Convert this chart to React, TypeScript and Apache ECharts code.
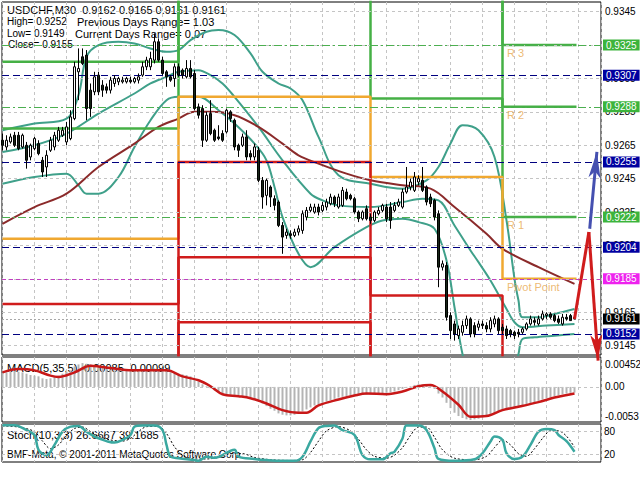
import { useEffect, useRef } from 'react';
import * as echarts from 'echarts';

const FONT = '"Liberation Sans", Arial, sans-serif';

const symbolName = 'USDCHF';
const timeframe = 'M30';
const dateLabels = ['14 Mar 2012', '14 Mar 10:00', '14 Mar 18:00', '15 Mar 02:00', '15 Mar 10:00', '15 Mar 18:00', '16 Mar 02:00', '16 Mar 10:00', '18 Mar 18:30'];
const barsPerLabel = 16;
const barsPerGridLine = 8;

const open = [
  0.9268, 0.9264, 0.9267, 0.9271, 0.9271, 0.9264, 0.9265, 0.9258, 0.9263, 0.9266,
  0.9256, 0.9252, 0.9262, 0.9264, 0.9268, 0.9271, 0.9267, 0.9269, 0.9281, 0.9309,
  0.9318, 0.9319, 0.9298, 0.9297, 0.9307, 0.9301, 0.9300, 0.9298, 0.9302, 0.9303,
  0.9303, 0.9303, 0.9304, 0.9303, 0.9304, 0.9307, 0.9312, 0.9312, 0.9316, 0.9327,
  0.9316, 0.9309, 0.9306, 0.9305, 0.9312, 0.9310, 0.9306, 0.9311, 0.9308, 0.9288,
  0.9287, 0.9268, 0.9284, 0.9274, 0.9270, 0.9272, 0.9273, 0.9285, 0.9280, 0.9265,
  0.9265, 0.9270, 0.9260, 0.9258, 0.9262, 0.9244, 0.9235, 0.9240, 0.9233, 0.9231,
  0.9217, 0.9211, 0.9212, 0.9211, 0.9213, 0.9214, 0.9222, 0.9226, 0.9225, 0.9228,
  0.9226, 0.9228, 0.9230, 0.9234, 0.9228, 0.9229, 0.9237, 0.9235, 0.9233, 0.9225,
  0.9221, 0.9227, 0.9222, 0.9220, 0.9224, 0.9226, 0.9228, 0.9228, 0.9226, 0.9229,
  0.9228, 0.9237, 0.9240, 0.9238, 0.9243, 0.9244, 0.9240, 0.9234, 0.9232, 0.9224,
  0.9192, 0.9193, 0.9163, 0.9158, 0.9151, 0.9153, 0.9157, 0.9161, 0.9157, 0.9156,
  0.9158, 0.9157, 0.9155, 0.9158, 0.9161, 0.9156, 0.9155, 0.9154, 0.9153, 0.9153,
  0.9153, 0.9155, 0.9158, 0.9160, 0.9158, 0.9161, 0.9163, 0.9164, 0.9163, 0.9161,
  0.9158, 0.9162, 0.9163, 0.9162,
];
const close = [
  0.9265, 0.9268, 0.9270, 0.9265, 0.9263, 0.9271, 0.9256, 0.9265, 0.9269, 0.9260,
  0.9249, 0.9259, 0.9268, 0.9271, 0.9274, 0.9274, 0.9276, 0.9282, 0.9312, 0.9311,
  0.9314, 0.9287, 0.9287, 0.9306, 0.9297, 0.9298, 0.9298, 0.9304, 0.9305, 0.9305,
  0.9304, 0.9305, 0.9303, 0.9305, 0.9306, 0.9312, 0.9316, 0.9317, 0.9327, 0.9316,
  0.9308, 0.9306, 0.9304, 0.9312, 0.9307, 0.9307, 0.9311, 0.9306, 0.9287, 0.9283,
  0.9268, 0.9283, 0.9272, 0.9268, 0.9269, 0.9268, 0.9286, 0.9281, 0.9264, 0.9262,
  0.9270, 0.9258, 0.9258, 0.9264, 0.9244, 0.9234, 0.9244, 0.9234, 0.9229, 0.9217,
  0.9210, 0.9213, 0.9211, 0.9213, 0.9215, 0.9224, 0.9226, 0.9228, 0.9228, 0.9225,
  0.9229, 0.9231, 0.9234, 0.9230, 0.9234, 0.9238, 0.9233, 0.9233, 0.9225, 0.9221,
  0.9225, 0.9221, 0.9220, 0.9225, 0.9226, 0.9229, 0.9221, 0.9220, 0.9229, 0.9231,
  0.9237, 0.9240, 0.9243, 0.9246, 0.9245, 0.9238, 0.9231, 0.9230, 0.9222, 0.9192,
  0.9194, 0.9162, 0.9154, 0.9152, 0.9155, 0.9157, 0.9161, 0.9152, 0.9152, 0.9158,
  0.9157, 0.9155, 0.9160, 0.9161, 0.9154, 0.9154, 0.9151, 0.9152, 0.9151, 0.9152,
  0.9155, 0.9158, 0.9161, 0.9159, 0.9161, 0.9164, 0.9164, 0.9162, 0.9160, 0.9159,
  0.9162, 0.9161, 0.9160, 0.9161,
];
const low = [
  0.9262, 0.9262, 0.9266, 0.9264, 0.9262, 0.9263, 0.9251, 0.9256, 0.9262, 0.9259,
  0.9246, 0.9246, 0.9261, 0.9262, 0.9267, 0.9270, 0.9265, 0.9268, 0.9280, 0.9292,
  0.9313, 0.9280, 0.9282, 0.9295, 0.9295, 0.9294, 0.9296, 0.9296, 0.9300, 0.9301,
  0.9302, 0.9302, 0.9302, 0.9302, 0.9302, 0.9306, 0.9310, 0.9310, 0.9314, 0.9315,
  0.9307, 0.9300, 0.9303, 0.9300, 0.9306, 0.9305, 0.9305, 0.9305, 0.9286, 0.9281,
  0.9264, 0.9267, 0.9271, 0.9267, 0.9268, 0.9267, 0.9272, 0.9279, 0.9262, 0.9258,
  0.9264, 0.9256, 0.9256, 0.9256, 0.9243, 0.9227, 0.9229, 0.9228, 0.9226, 0.9216,
  0.9200, 0.9209, 0.9209, 0.9210, 0.9211, 0.9212, 0.9220, 0.9225, 0.9224, 0.9223,
  0.9225, 0.9226, 0.9229, 0.9228, 0.9227, 0.9228, 0.9232, 0.9232, 0.9224, 0.9219,
  0.9220, 0.9220, 0.9218, 0.9219, 0.9223, 0.9225, 0.9219, 0.9215, 0.9225, 0.9228,
  0.9227, 0.9236, 0.9238, 0.9237, 0.9241, 0.9237, 0.9229, 0.9228, 0.9220, 0.9180,
  0.9190, 0.9160, 0.9149, 0.9148, 0.9149, 0.9151, 0.9155, 0.9150, 0.9150, 0.9154,
  0.9155, 0.9153, 0.9153, 0.9156, 0.9152, 0.9152, 0.9149, 0.9150, 0.9149, 0.9150,
  0.9152, 0.9154, 0.9157, 0.9157, 0.9157, 0.9160, 0.9161, 0.9161, 0.9159, 0.9158,
  0.9157, 0.9160, 0.9160, 0.9161,
];
const high = [
  0.9272, 0.9271, 0.9272, 0.9273, 0.9273, 0.9272, 0.9267, 0.9266, 0.9270, 0.9268,
  0.9258, 0.9262, 0.9270, 0.9273, 0.9276, 0.9276, 0.9279, 0.9286, 0.9315, 0.9323,
  0.9323, 0.9322, 0.9302, 0.9309, 0.9309, 0.9304, 0.9302, 0.9306, 0.9307, 0.9306,
  0.9306, 0.9306, 0.9306, 0.9306, 0.9308, 0.9315, 0.9318, 0.9321, 0.9332, 0.9329,
  0.9318, 0.9310, 0.9307, 0.9314, 0.9314, 0.9311, 0.9316, 0.9316, 0.9310, 0.9290,
  0.9289, 0.9285, 0.9292, 0.9275, 0.9277, 0.9274, 0.9287, 0.9286, 0.9281, 0.9266,
  0.9272, 0.9274, 0.9262, 0.9266, 0.9264, 0.9246, 0.9245, 0.9241, 0.9235, 0.9232,
  0.9219, 0.9215, 0.9214, 0.9215, 0.9217, 0.9226, 0.9228, 0.9230, 0.9230, 0.9230,
  0.9231, 0.9233, 0.9236, 0.9235, 0.9236, 0.9240, 0.9239, 0.9236, 0.9234, 0.9226,
  0.9226, 0.9229, 0.9224, 0.9226, 0.9228, 0.9230, 0.9230, 0.9231, 0.9231, 0.9233,
  0.9239, 0.9252, 0.9245, 0.9249, 0.9247, 0.9252, 0.9241, 0.9236, 0.9233, 0.9226,
  0.9196, 0.9195, 0.9165, 0.9160, 0.9157, 0.9160, 0.9163, 0.9162, 0.9159, 0.9160,
  0.9160, 0.9159, 0.9162, 0.9163, 0.9162, 0.9158, 0.9157, 0.9155, 0.9154, 0.9155,
  0.9156, 0.9159, 0.9163, 0.9162, 0.9163, 0.9166, 0.9165, 0.9165, 0.9164, 0.9163,
  0.9164, 0.9164, 0.9164, 0.9165,
];

// Bollinger bands and slow moving average (bar index, price)
const bbUpper = [
  [0, 0.9274], [8, 0.9278], [16, 0.9281], [19, 0.9295], [21, 0.9318], [24, 0.9325], [29, 0.9327], [33, 0.9326],
  [37, 0.9323], [41, 0.9321], [44, 0.9322], [47, 0.9328], [51, 0.9333], [54, 0.9334], [58, 0.9331], [62, 0.9320],
  [65, 0.9309], [69, 0.9302], [72, 0.9299], [75, 0.9292], [79, 0.9270], [84, 0.9247], [92, 0.9242], [100, 0.9239],
  [106, 0.9244], [109, 0.9252], [112, 0.9266], [115, 0.9277], [119, 0.9274], [123, 0.9258], [126, 0.9220],
  [128, 0.9185], [129, 0.9172], [130, 0.9162], [134, 0.9162], [138, 0.9164], [143, 0.9167],
];
const bbMiddle = [
  [0, 0.9261], [8, 0.9265], [16, 0.9272], [24, 0.9284], [33, 0.9296], [37, 0.9302], [41, 0.9306], [44, 0.9309],
  [49, 0.9310], [52, 0.9307], [55, 0.9302], [58, 0.9294], [64, 0.9276], [70, 0.9256], [77, 0.9236], [80, 0.9232],
  [84, 0.9229], [92, 0.9228], [100, 0.9231], [105, 0.9233], [109, 0.9232], [113, 0.9217], [117, 0.9202],
  [119, 0.9195], [122, 0.9184], [126, 0.9167], [128, 0.9159], [130, 0.9156], [136, 0.9157], [143, 0.9158],
];
const bbLower = [
  [0, 0.9242], [8, 0.9246], [16, 0.9248], [19, 0.9241], [21, 0.9236], [24, 0.9236], [29, 0.9246], [33, 0.9264],
  [37, 0.9280], [41, 0.9292], [44, 0.9294], [49, 0.9294], [54, 0.9286], [58, 0.9278], [63, 0.9266], [66, 0.9256],
  [68, 0.9240], [70, 0.9222], [74, 0.9200], [77, 0.9192], [83, 0.9204], [91, 0.9216], [95, 0.9220], [100, 0.9221],
  [104, 0.9219], [108, 0.9215], [111, 0.9196], [113, 0.9168], [115, 0.9140], [117, 0.9125], [120, 0.9118],
  [124, 0.9112], [127, 0.9122], [129, 0.9140], [130, 0.9149], [133, 0.9150], [138, 0.9151], [143, 0.9152],
];
const maSlow = [
  [0, 0.9218], [8, 0.9228], [16, 0.9236], [24, 0.9252], [33, 0.9266], [39, 0.9276], [44, 0.9281], [48, 0.9285],
  [52, 0.9285], [58, 0.9283], [64, 0.9276], [70, 0.9266], [74, 0.9259], [79, 0.9254], [86, 0.9248], [92, 0.9244],
  [100, 0.9241], [107, 0.9239], [113, 0.9228], [121, 0.9212], [125, 0.9203], [134, 0.9192], [143, 0.9182],
];

// daily pivot levels (four sessions)
const dayStarts = [0, 44, 92, 125];
const pivotR3 = [0.9360, 0.9470, 0.9420, 0.9325];
const pivotR2 = [0.9315, 0.9420, 0.9370, 0.9288];
const pivotR1 = [0.9275, 0.9370, 0.9293, 0.9222];
const pivotPP = [0.9209, 0.9294, 0.9246, 0.9185];
const pivotS1 = [0.9170, 0.9255, 0.9175, 0.9120];
const pivotS2 = [0.9120, 0.9198, 0.9120, 0.9080];
const pivotS3 = [0.9080, 0.9159, 0.9080, 0.9040];
const pivotNames = ['R 3', 'R 2', 'R 1', 'Pivot Point'];

// horizontal levels with price tags on the right scale
const priceTicks = [0.9145, 0.9165, 0.9185, 0.9205, 0.9225, 0.9245, 0.9265, 0.9285, 0.9305, 0.9325, 0.9345];
const resistanceTags = [0.9325, 0.9288, 0.9222];
const rangeTags = [0.9307, 0.9255, 0.9204, 0.9152];
const pivotTags = [0.9185];
const bidPrice = 0.9161;
const priceMin = 0.91394;
const priceMax = 0.93508;

// projection arrows (bar index, price)
const forecastUp = [[146.8, 0.9215], [148.6, 0.9261]];
const forecastDown = [[143, 0.9161], [146.6, 0.9213], [148.9, 0.9136]];

// info block
const dayHigh = '0.9252';
const dayLow = '0.9149';
const dayClose = '0.9155';
const prevDaysRange = '1.03';
const currDaysRange = '0.07';

// MACD(5,35,5)
const macdMin = -0.0053;
const macdMax = 0.00452;
const macdHist = [
  0.0021, 0.0022, 0.0023, 0.0024, 0.0023, 0.0022, 0.0020, 0.0018, 0.0017, 0.0016,
  0.0013, 0.0012, 0.0013, 0.0015, 0.0017, 0.0020, 0.0023, 0.0025, 0.0031, 0.0034,
  0.0036, 0.0035, 0.0034, 0.0032, 0.0030, 0.0029, 0.0027, 0.0026, 0.0025, 0.0025,
  0.0024, 0.0024, 0.0024, 0.0024, 0.0024, 0.0025, 0.0026, 0.0027, 0.0028, 0.0027,
  0.0025, 0.0024, 0.0022, 0.0021, 0.0020, 0.0019, 0.0018, 0.0016, 0.0012, 0.0008,
  0.0004, 0.0001, -0.0002, -0.0005, -0.0008, -0.0010, -0.0011, -0.0012, -0.0012, -0.0013,
  -0.0014, -0.0015, -0.0016, -0.0018, -0.0021, -0.0025, -0.0029, -0.0033, -0.0036, -0.0040,
  -0.0042, -0.0043, -0.0043, -0.0042, -0.0040, -0.0037, -0.0034, -0.0031, -0.0028, -0.0026,
  -0.0024, -0.0022, -0.0020, -0.0018, -0.0016, -0.0015, -0.0014, -0.0013, -0.0013, -0.0012,
  -0.0012, -0.0012, -0.0011, -0.0011, -0.0010, -0.0010, -0.0009, -0.0008, -0.0007, -0.0005,
  -0.0003, -0.0001, 0.0001, 0.0003, 0.0004, 0.0004, 0.0003, 0.0001, -0.0003, -0.0010,
  -0.0016, -0.0024, -0.0032, -0.0039, -0.0044, -0.0047, -0.0049, -0.0050, -0.0049, -0.0048,
  -0.0046, -0.0044, -0.0042, -0.0040, -0.0038, -0.0036, -0.0034, -0.0033, -0.0032, -0.0030,
  -0.0029, -0.0027, -0.0025, -0.0023, -0.0021, -0.0019, -0.0017, -0.0016, -0.0014, -0.0013,
  -0.0011, -0.0010, -0.0009, -0.00085,
];
const macdSignal = [
  [0, 0.0022], [4, 0.0027], [8, 0.0025], [12, 0.0017], [14, 0.0015], [18, 0.0022], [22, 0.0032], [24, 0.0031],
  [29, 0.0027], [33, 0.0025], [41, 0.0025], [45, 0.0016], [49, 0.0010], [52, 0.0001], [55, -0.0011], [59, -0.0014],
  [62, -0.0017], [66, -0.0025], [70, -0.0035], [74, -0.0039], [76, -0.0039], [79, -0.0028], [84, -0.0019],
  [88, -0.0013], [91, -0.0010], [96, -0.0011], [100, -0.0007], [104, 0.0001], [107, 0.0003], [110, -0.0007],
  [114, -0.0027], [117, -0.0045], [121, -0.0044], [125, -0.0035], [129, -0.0030], [134, -0.0023], [138, -0.0016],
  [143, -0.00099],
];
const macdZeroLabel = '0.00';

// Stochastic(10,3,3)
const stochLevels = [80, 20];
const stochBounds = [100, 0];
const stochMain = [
  [0, 97], [3, 97], [6, 84], [8, 71], [9, 32], [11, 18], [13, 45], [15, 80], [17, 93], [19, 95], [21, 80], [23, 67],
  [24, 62], [26, 55], [28, 51], [30, 58], [32, 71], [33, 93], [35, 96], [38, 96], [40, 84], [41, 45], [42, 14],
  [44, 10], [48, 5], [49, 3], [51, 14], [53, 11], [58, 32], [59, 14], [63, 8], [66, 5], [70, 3], [73, 3], [75, 14],
  [77, 54], [79, 89], [81, 95], [83, 96], [85, 84], [88, 71], [90, 18], [92, 7], [95, 7], [97, 23], [98, 27],
  [100, 62], [101, 96], [104, 96], [106, 84], [108, 36], [109, 8], [113, 3], [118, 7], [120, 23], [122, 54],
  [123, 67], [125, 58], [126, 23], [128, 8], [130, 14], [132, 45], [134, 80], [136, 87], [138, 84], [139, 71],
  [141, 55], [143, 27],
];
const stochSignal = [
  [0, 95], [4, 92], [8, 80], [10, 55], [12, 35], [14, 45], [16, 70], [18, 88], [20, 92], [22, 80], [24, 68],
  [27, 58], [30, 55], [32, 62], [34, 80], [36, 93], [39, 94], [41, 75], [43, 40], [45, 18], [48, 8], [51, 8],
  [54, 12], [57, 22], [60, 22], [63, 12], [67, 6], [72, 4], [75, 6], [77, 25], [79, 55], [81, 82], [84, 93],
  [87, 82], [89, 60], [91, 32], [93, 15], [96, 10], [98, 18], [100, 38], [102, 70], [104, 92], [106, 92],
  [108, 65], [110, 32], [113, 10], [118, 6], [121, 15], [123, 38], [125, 58], [127, 45], [129, 22], [131, 15],
  [133, 35], [135, 62], [137, 82], [139, 82], [141, 68], [143, 39],
];

const GREEN = '#45b045';
const ORANGE = '#f0a830';
const RED = '#d01c1c';
const NAVY = '#0000a0';
const BB = '#3fa08a';
const GRID = '#c4c4c4';

function buildOption() {
  const lastBar = close.length - 1;
  const f4 = (v: number) => v.toFixed(4);
  const xAxisBase = (gridIndex: number, showLabels: boolean) => ({
    type: 'value',
    gridIndex,
    min: -0.125,
    max: 149.625,
    interval: barsPerGridLine,
    axisLine: { show: false },
    axisTick: { show: false },
    splitLine: { show: true, lineStyle: { color: GRID, type: [3, 3], width: 1 } },
    axisLabel: {
      show: showLabels,
      align: 'left',
      margin: 4,
      color: '#000',
      fontSize: 10,
      fontFamily: FONT,
      formatter: (v: number) => {
        const i = Math.round(v);
        if (Math.abs(v - i) > 0.01 || i % barsPerLabel !== 0) return '';
        return dateLabels[i / barsPerLabel] ?? '';
      },
    },
  });
  const stepData = (lv: number[]) => [
    ...dayStarts.map((d, k) => [d, lv[k]]),
    [lastBar + 0.5, lv[lv.length - 1]],
  ];
  const stepSeries = (lv: number[], color: string) => ({
    type: 'line',
    xAxisIndex: 0,
    yAxisIndex: 0,
    step: 'end',
    symbol: 'none',
    data: stepData(lv),
    lineStyle: { color, width: 2.5 },
    z: 4,
  });
  const smoothLine = (data: number[][], color: string, width: number, xi: number, z = 3) => ({
    type: 'line',
    xAxisIndex: xi,
    yAxisIndex: xi,
    smooth: 0.35,
    symbol: 'none',
    data,
    lineStyle: { color, width },
    z,
  });
  const tag = (v: number, bg: string, lineColor: string, type: any) => ({
    yAxis: v,
    lineStyle: { color: lineColor, type, width: 1 },
    label: {
      show: true,
      position: 'end',
      distance: 2,
      formatter: f4(v),
      color: '#fff',
      backgroundColor: bg,
      padding: [1, 3, 0, 3],
      fontSize: 10,
      fontFamily: FONT,
    },
  });
  const lastDay = dayStarts.length - 1;
  const pivotLabelValues = [pivotR3[lastDay], pivotR2[lastDay], pivotR1[lastDay], pivotPP[lastDay]];
  const plainLabel = (text: string, distance = 4) => ({
    show: true, position: 'end', distance, formatter: text, color: '#000', fontSize: 10, fontFamily: FONT,
  });
  const gridBox = { show: true, borderColor: '#000', borderWidth: 1, backgroundColor: '#fff', containLabel: false, outerBoundsMode: 'none' };
  const txt = (x: number, y: number, text: string, size = 10) => ({
    type: 'text', x, y, style: { text, fill: '#000', font: `${size}px ${FONT}` },
  });

  return {
    animation: false,
    backgroundColor: '#fff',
    textStyle: { fontFamily: FONT },
    grid: [
      { left: 2, top: 2, width: 599, height: 353, ...gridBox },
      { left: 2, top: 357, width: 599, height: 65, ...gridBox },
      { left: 2, top: 424, width: 599, height: 38, ...gridBox },
    ],
    xAxis: [xAxisBase(0, false), xAxisBase(1, false), xAxisBase(2, true)],
    yAxis: [
      {
        type: 'value', gridIndex: 0, position: 'right', min: priceMin, max: priceMax,
        axisLine: { show: false }, axisTick: { show: false }, splitLine: { show: false }, axisLabel: { show: false },
      },
      {
        type: 'value', gridIndex: 1, position: 'right', min: macdMin, max: macdMax,
        axisLine: { show: false }, axisTick: { show: false }, splitLine: { show: false },
        axisLabel: {
          show: true, margin: 4, color: '#000', fontSize: 10, fontFamily: FONT, align: 'left',
          showMinLabel: true, showMaxLabel: true,
          formatter: (v: number) => {
            if (Math.abs(v - macdMax) < 1e-9) return '{top|' + String(macdMax) + '}';
            if (Math.abs(v - macdMin) < 1e-9) return '{bot|' + String(macdMin) + '}';
            return '';
          },
          rich: {
            top: { padding: [15, 0, 0, 0], fontSize: 10, fontFamily: FONT, color: '#000' },
            bot: { padding: [0, 0, 11, 0], fontSize: 10, fontFamily: FONT, color: '#000' },
          },
        },
      },
      {
        type: 'value', gridIndex: 2, position: 'right', min: 0, max: 100,
        axisLine: { show: false }, axisTick: { show: false }, splitLine: { show: false }, axisLabel: { show: false },
      },
    ],
    series: [
      // price grid + scale labels
      {
        type: 'line', xAxisIndex: 0, yAxisIndex: 0, data: [], z: 1,
        markLine: {
          silent: true, symbol: ['none', 'none'], animation: false, precision: 6,
          data: priceTicks.map((v) => ({
            yAxis: v,
            lineStyle: { color: GRID, type: [3, 3], width: 1 },
            label: plainLabel(f4(v)),
          })),
        },
      },
      smoothLine(bbUpper, BB, 2, 0),
      smoothLine(bbMiddle, BB, 2, 0),
      smoothLine(bbLower, BB, 2, 0),
      smoothLine(maSlow, '#8b2a2a', 2, 0),
      stepSeries(pivotR3, GREEN),
      stepSeries(pivotR2, GREEN),
      stepSeries(pivotR1, GREEN),
      stepSeries(pivotPP, ORANGE),
      stepSeries(pivotS1, RED),
      stepSeries(pivotS2, RED),
      stepSeries(pivotS3, RED),
      // tagged horizontal levels
      {
        type: 'line', xAxisIndex: 0, yAxisIndex: 0, data: [], z: 5,
        markLine: {
          silent: true, symbol: ['none', 'none'], animation: false, precision: 6,
          data: [
            ...resistanceTags.map((v) => tag(v, '#3cb43c', '#4caf50', [8, 3, 2, 3])),
            ...rangeTags.map((v) => tag(v, NAVY, '#000080', [7, 4])),
            ...pivotTags.map((v) => tag(v, '#ee22ee', '#c040c0', [4, 3])),
            tag(bidPrice, '#000', '#a8a8a8', [2, 2]),
          ],
        },
      },
      {
        type: 'candlestick',
        xAxisIndex: 0,
        yAxisIndex: 0,
        barWidth: 3,
        encode: { x: 0, y: [1, 2, 3, 4] },
        data: open.map((o, i) => [i, o, close[i], low[i], high[i]]),
        itemStyle: { color: '#ffffff', color0: '#172617', borderColor: '#000', borderColor0: '#000', borderWidth: 1 },
        z: 6,
      },
      {
        type: 'scatter',
        xAxisIndex: 0,
        yAxisIndex: 0,
        symbolSize: 1,
        itemStyle: { color: 'rgba(0,0,0,0)' },
        data: pivotLabelValues.map((v, k) => ({ value: [dayStarts[lastDay], v], name: pivotNames[k] })),
        label: {
          show: true, position: 'right', distance: 4, offset: [0, 8],
          formatter: (p: any) => p.name, color: '#e8a850', fontSize: 11, fontFamily: FONT,
        },
        z: 7,
      },
      {
        type: 'lines', coordinateSystem: 'cartesian2d', xAxisIndex: 0, yAxisIndex: 0, clip: false,
        symbol: ['none', 'none'], z: 8,
        data: [{ coords: forecastDown.slice(0, 2), lineStyle: { color: RED, width: 3, opacity: 1 } }],
      },
      {
        type: 'lines', coordinateSystem: 'cartesian2d', xAxisIndex: 0, yAxisIndex: 0, clip: false,
        symbol: ['none', 'arrow'], symbolSize: [0, [9, 26]], z: 8,
        data: [
          { coords: forecastDown.slice(1, 3), lineStyle: { color: RED, width: 3, opacity: 1 } },
          { coords: forecastUp, lineStyle: { color: '#4550b0', width: 3, opacity: 1 } },
        ],
      },
      // MACD
      {
        type: 'bar', xAxisIndex: 1, yAxisIndex: 1, barWidth: 2,
        data: macdHist.map((v, i) => [i, v]),
        itemStyle: { color: '#b4b4b4' },
        markLine: {
          silent: true, symbol: ['none', 'none'], animation: false, precision: 6,
          data: [{ yAxis: 0, lineStyle: { color: GRID, type: [3, 3], width: 1 }, label: plainLabel(macdZeroLabel) }],
        },
        z: 2,
      },
      smoothLine(macdSignal, '#c81818', 2.5, 1),
      // Stochastic
      {
        type: 'line', xAxisIndex: 2, yAxisIndex: 2, data: [], z: 1,
        markLine: {
          silent: true, symbol: ['none', 'none'], animation: false, precision: 2,
          data: [
            ...stochLevels.map((v) => ({
              yAxis: v,
              lineStyle: { color: GRID, type: [3, 3], width: 1 },
              label: plainLabel(String(v), 3),
            })),
            // the panel bounds are printed on top of the nearest level labels, as in the terminal
            ...stochBounds.map((b, k) => ({
              yAxis: stochLevels[k],
              lineStyle: { opacity: 0 },
              label: plainLabel(String(b), 3),
            })),
          ],
        },
      },
      {
        type: 'line', xAxisIndex: 2, yAxisIndex: 2, smooth: 0.3, symbol: 'none', data: stochSignal,
        lineStyle: { color: '#000', width: 1, type: [2, 2] }, z: 3,
      },
      smoothLine(stochMain, '#3aa8a0', 2.5, 2, 4),
    ],
    graphic: [
      {
        type: 'group', z: 100, children: [
          txt(7, 4, `${symbolName},${timeframe}  ${f4(open[lastBar])} ${f4(high[lastBar])} ${f4(low[lastBar])} ${f4(close[lastBar])}`, 11),
          txt(7, 16, `High= ${dayHigh}`),
          txt(77, 16, `Previous Days Range= ${prevDaysRange}`, 11),
          txt(7, 28, `Low= ${dayLow}`),
          txt(75, 28, `Current Days Range= ${currDaysRange}`, 11),
          txt(8, 39, `Close= ${dayClose}`),
          txt(7, 362, `MACD(5,35,5) ${macdHist[lastBar]} ${macdSignal[macdSignal.length - 1][1]}`, 11),
          txt(7, 429, 'Stoch(10,3,3) 26.6667 39.1685', 11),
          txt(7, 449, 'BMF-Meta, © 2001-2011 MetaQuotes Software Corp.', 10),
        ],
      },
    ],
  };
}

export default function App() {
  const ref = useRef<HTMLDivElement>(null);
  useEffect(() => {
    if (!ref.current) return;
    const chart = echarts.init(ref.current, null, { renderer: 'svg' });
    chart.setOption(buildOption() as any);
    return () => chart.dispose();
  }, []);
  return (
    <div
      ref={ref}
      style={{ position: 'fixed', left: 0, top: 0, width: 640, height: 480, background: '#fff' }}
    />
  );
}
